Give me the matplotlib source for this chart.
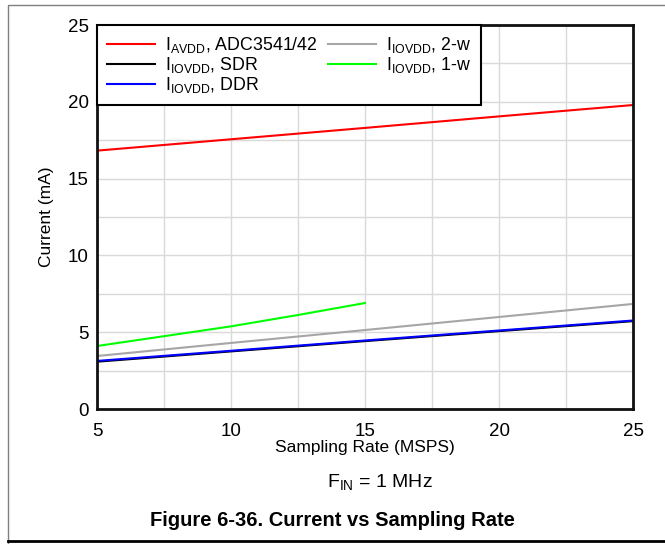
import matplotlib
matplotlib.use('Agg')
from matplotlib import pyplot as plt
from matplotlib.patches import Rectangle
from matplotlib.lines import Line2D

plt.rcParams['font.family'] = ['Liberation Sans', 'DejaVu Sans']
plt.rcParams['mathtext.fontset'] = 'custom'
plt.rcParams['mathtext.rm'] = 'Liberation Sans'
plt.rcParams['mathtext.it'] = 'Liberation Sans'

# sampling rate (MSPS)
rate = [5, 10, 15, 20, 25]
rate_1w = [5, 10, 12.5, 15]

# current (mA)
i_avdd = [16.82, 17.56, 18.30, 19.05, 19.79]
i_sdr = [3.08, 3.75, 4.42, 5.07, 5.72]
i_ddr = [3.13, 3.79, 4.46, 5.11, 5.76]
i_2w = [3.45, 4.30, 5.14, 5.99, 6.84]
i_1w = [4.10, 5.38, 6.12, 6.90]

labels = [r'$\mathrm{I_{AVDD}}$, ADC3541/42', r'$\mathrm{I_{IOVDD}}$, SDR',
          r'$\mathrm{I_{IOVDD}}$, DDR', r'$\mathrm{I_{IOVDD}}$, 2-w',
          r'$\mathrm{I_{IOVDD}}$, 1-w']

fig = plt.figure(figsize=(6.65, 5.44), dpi=100)
ax = fig.add_axes([97/665, 1 - 409/544, 536/665, 384/544])

lw = 1.5
ax.plot(rate, i_avdd, c='#ff0000', lw=lw, label=labels[0])
ax.plot(rate, i_sdr, c='#000000', lw=lw, label=labels[1])
ax.plot(rate, i_ddr, c='#0000ff', lw=lw, label=labels[2])
ax.plot(rate, i_2w, c='#a6a6a6', lw=lw, label=labels[3])
ax.plot(rate_1w, i_1w, c='#00ff00', lw=lw, label=labels[4])

ax.set_xlim(5, 25)
ax.set_ylim(0, 25)
ax.set_xticks([5, 10, 15, 20, 25])
ax.set_yticks([0, 5, 10, 15, 20, 25])
ax.set_xticks([7.5, 12.5, 17.5, 22.5], minor=True)
ax.set_yticks([2.5, 7.5, 12.5, 17.5, 22.5], minor=True)
ax.grid(True, which='both', c='#d9d9d9', lw=1)
ax.set_axisbelow(True)
ax.tick_params(which='both', length=0, labelsize=13.5)
ax.tick_params(axis='x', pad=10)
ax.tick_params(axis='y', pad=6)
for sp in ax.spines.values():
    sp.set_linewidth(2)
    sp.set_color('#111111')

ax.set_xlabel('Sampling Rate (MSPS)', fontsize=12.5, labelpad=0)
ax.set_ylabel('Current (mA)', fontsize=12.5, labelpad=10)

leg = ax.legend(loc='upper left', ncol=2, bbox_to_anchor=(0, 1),
                borderaxespad=0, fancybox=False, edgecolor='black',
                framealpha=1, fontsize=12.8, handlelength=2.7,
                labelspacing=0.0, columnspacing=0.6, handletextpad=0.55,
                borderpad=0.55)
leg.get_frame().set_linewidth(1.5)

fig.text(380/665, 1 - 482/544, r'$\mathrm{F_{IN}}$ = 1 MHz', fontsize=14,
         ha='center', va='center')
fig.text(0.5, 1 - 521/544, 'Figure 6-36. Current vs Sampling Rate',
         fontsize=14.5, fontweight='bold', ha='center', va='center')

# outer frame and caption rule
fig.add_artist(Rectangle((8/665, -0.01), 1.0, 1 - 5/544 + 0.01,
                         transform=fig.transFigure, fill=False,
                         ec='#7f7f7f', lw=1))
fig.add_artist(Line2D([8/665, 1], [1 - 541/544, 1 - 541/544],
                      transform=fig.transFigure, c='black', lw=2))

fig.savefig('out.png', dpi=100)
